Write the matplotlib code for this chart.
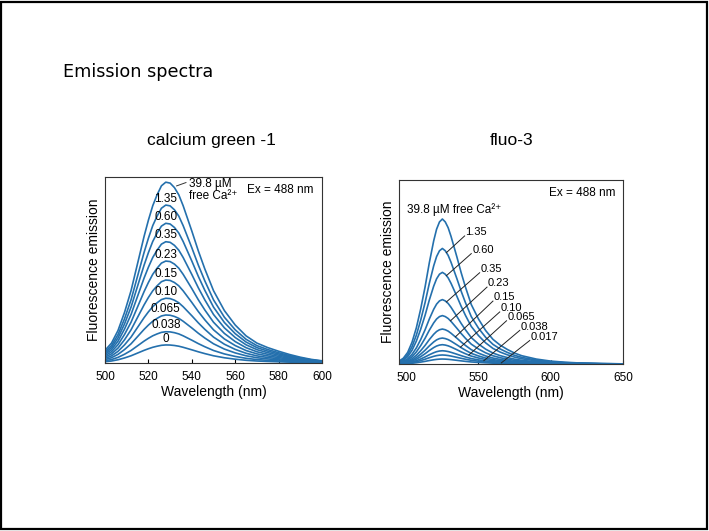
import matplotlib.pyplot as plt
import numpy as np
from matplotlib.patches import Rectangle

plt.rcParams['font.family'] = ['Liberation Sans', 'DejaVu Sans']

# calcium green-1: normalised emission profile
cg_wl = [500, 503, 506, 509, 512, 515, 518, 520, 522, 524, 526, 528, 530, 532,
         534, 536, 538, 540, 543, 546, 550, 555, 560, 565, 570, 575, 580, 585,
         590, 595, 600]
cg_shape = [0.07, 0.11, 0.18, 0.28, 0.40, 0.55, 0.70, 0.79, 0.87, 0.93, 0.98,
            1.00, 0.995, 0.97, 0.93, 0.87, 0.80, 0.73, 0.62, 0.52, 0.40, 0.29,
            0.21, 0.15, 0.11, 0.085, 0.065, 0.047, 0.032, 0.02, 0.012]
cg_conc = ['39.8', '1.35', '0.60', '0.35', '0.23', '0.15', '0.10', '0.065', '0.038', '0']
cg_peak = [97.2, 84.9, 75.1, 65.2, 54.8, 44.6, 34.8, 25.8, 16.8, 9.7]

# fluo-3
f3_wl = [495, 498, 501, 504, 507, 510, 513, 516, 519, 521, 523, 525, 527, 529,
         531, 533, 535, 538, 541, 545, 550, 555, 560, 565, 570, 575, 580, 590,
         600, 610, 620, 635, 650]
f3_shape = [0.02, 0.04, 0.08, 0.15, 0.25, 0.38, 0.53, 0.70, 0.85, 0.93, 0.98,
            1.00, 0.98, 0.94, 0.88, 0.81, 0.74, 0.63, 0.53, 0.41, 0.31, 0.23,
            0.17, 0.13, 0.10, 0.075, 0.057, 0.034, 0.02, 0.012, 0.007,
            0.003, 0.001]
f3_conc = ['39.8', '1.35', '0.60', '0.35', '0.23', '0.15', '0.10', '0.065', '0.038', '0.017', '0']
f3_peak = [78.8, 62.8, 49.8, 35.0, 26.3, 19.0, 14.1, 10.5, 7.2, 4.9, 2.7]

# label positions (text x, text y, anchor wavelength) for fluo-3 leaders
f3_lab = [None, (541, 71.6, 527.8), (545.6, 62, 527.8), (551.4, 51.6, 527.8),
          (556.5, 43.8, 530.6), (560.6, 36.2, 534), (565.3, 30.3, 537.5),
          (570, 25.5, 543.3), (579.2, 20.3, 553.7), (586.1, 14.8, 565.8), None]

blue = '#2470ad'

fig = plt.figure(figsize=(7.09, 5.31), dpi=100)
fig.patches.append(Rectangle((0.002, 0.003), 0.995, 0.994, transform=fig.transFigure,
                             fill=False, lw=1.6, ec='black'))
fig.text(0.089, 0.864, 'Emission spectra', fontsize=12.7, family='DejaVu Sans',
         va='center', ha='left')
fig.text(0.2976, 0.7345, 'calcium green -1', fontsize=12.5, ha='center', va='center')
fig.text(0.722, 0.7345, 'fluo-3', fontsize=12.5, ha='center', va='center')


def style(ax, xlim, ticks):
    ax.set_xlim(*xlim)
    ax.set_ylim(0, 100)
    ax.set_yticks([])
    ax.set_xticks(ticks)
    ax.tick_params(axis='x', direction='in', length=3, width=0.8, labelsize=8.5, pad=6)
    for s in ax.spines.values():
        s.set_linewidth(0.8)
        s.set_color('#333333')
    ax.set_xlabel('Wavelength (nm)', fontsize=10, labelpad=1)
    ax.set_ylabel('Fluorescence emission', fontsize=10, labelpad=3)


# LEFT: calcium green-1
ax1 = fig.add_axes([0.1481, 0.3164, 0.3061, 0.3503])
cg_shape = np.array(cg_shape)
for conc, pk in zip(cg_conc, cg_peak):
    ax1.plot(cg_wl, pk * cg_shape, color=blue, lw=1.2)
for conc, pk in zip(cg_conc[1:], cg_peak[1:]):
    ax1.text(528, pk + 3.4, conc, fontsize=8.5, ha='center', va='center')
ax1.plot([533, 537.3], [95.2, 97], color='#333333', lw=0.7)
ax1.text(538.5, 93, '39.8 \u00b5M\nfree Ca\u00b2\u207a', fontsize=8.5, ha='left',
         va='center', linespacing=1.0)
ax1.text(596, 93, 'Ex = 488 nm', fontsize=8.5, ha='right', va='center')
style(ax1, (500, 600), [500, 520, 540, 560, 580, 600])

# RIGHT: fluo-3
ax2 = fig.add_axes([0.5628, 0.3145, 0.3159, 0.3465])
f3_shape = np.array(f3_shape)
for conc, pk in zip(f3_conc, f3_peak):
    ax2.plot(f3_wl, pk * f3_shape, color=blue, lw=1.2)
for conc, pk, lab in zip(f3_conc, f3_peak, f3_lab):
    if lab is None:
        continue
    tx, ty, ax_wl = lab
    yy = pk * np.interp(ax_wl, f3_wl, f3_shape)
    ax2.plot([ax_wl, tx - 0.6], [yy, ty - 2.0], color='#222222', lw=0.7)
    ax2.text(tx, ty, conc, fontsize=8, ha='left', va='center')
ax2.text(500.7, 83.7, '39.8 \u00b5M free Ca\u00b2\u207a', fontsize=8.5, ha='left', va='center')
ax2.text(645, 92.8, 'Ex = 488 nm', fontsize=8.5, ha='right', va='center')
style(ax2, (495, 650), [500, 550, 600, 650])

fig.savefig('out.png', dpi=100)
